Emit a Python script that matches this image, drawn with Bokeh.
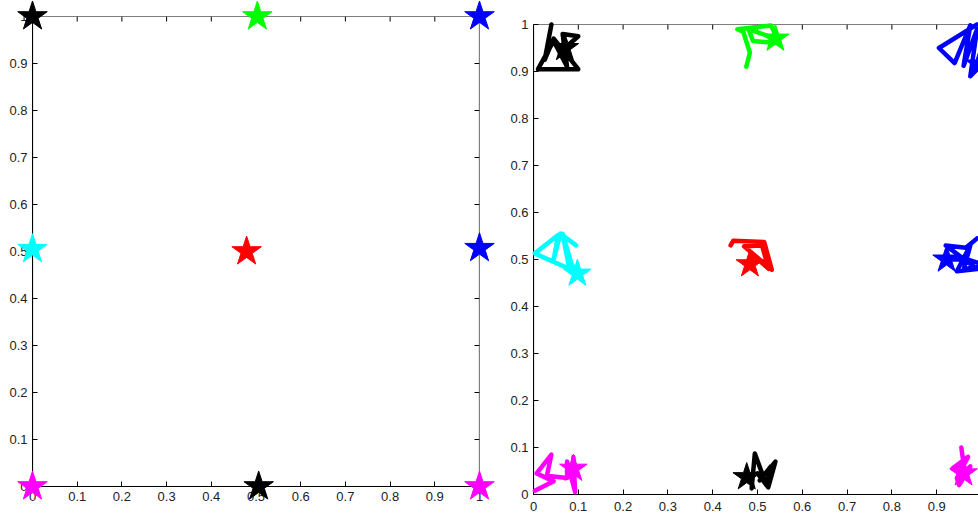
from bokeh.plotting import figure
from bokeh.models import Range1d, FixedTicker, BoxAnnotation
from bokeh.layouts import row
from bokeh.embed import file_html
from bokeh.resources import INLINE

# ---- ticks ----
ticks = [0, 0.1, 0.2, 0.3, 0.4, 0.5, 0.6, 0.7, 0.8, 0.9, 1.0]
tick_labels = ["0", "0.1", "0.2", "0.3", "0.4", "0.5", "0.6", "0.7", "0.8", "0.9", "1"]

# ---- left panel: target positions ----
left_x = [0.0, 0.503, 1.0, 0.0, 0.479, 1.0, 0.0, 0.506, 1.0]
left_y = [1.0, 1.0, 1.0, 0.505, 0.5, 0.507, 0.0, 0.0, 0.0]
left_colors = ["#000000", "#00FF00", "#0000FF", "#00FFFF", "#FF0000",
               "#0000FF", "#FF00FF", "#000000", "#FF00FF"]

# ---- right panel: trajectories ----
traj_black_tl_x = [0.04, 0.025, 0.045, 0.10, 0.01, 0.045, 0.075, 0.065, 0.10, 0.07]
traj_black_tl_y = [1.00, 0.925, 0.97, 0.905, 0.905, 0.965, 0.91, 0.98, 0.975, 0.95]
traj_green_x = [0.475, 0.483, 0.468, 0.455, 0.53, 0.55, 0.49, 0.48, 0.54]
traj_green_y = [0.91, 0.94, 0.985, 0.99, 0.998, 0.96, 0.965, 0.99, 0.97]
traj_blue_tr_x = [0.99, 0.905, 0.94, 0.975, 0.96, 0.99, 0.975, 0.99, 0.995]
traj_blue_tr_y = [1.0, 0.95, 0.918, 0.998, 0.912, 0.99, 0.89, 0.905, 0.915]
traj_cyan_x = [0.095, 0.06, 0.045, 0.055, 0.003, 0.08, 0.065, 0.085, 0.098]
traj_cyan_y = [0.53, 0.555, 0.50, 0.552, 0.513, 0.48, 0.555, 0.49, 0.47]
traj_red_x = [0.44, 0.446, 0.515, 0.532, 0.47, 0.51, 0.525, 0.49, 0.483]
traj_red_y = [0.53, 0.54, 0.537, 0.478, 0.528, 0.53, 0.48, 0.51, 0.49]
traj_blue_mid_x = [0.99, 0.965, 0.92, 0.99, 0.945, 0.975, 0.96, 1.0, 0.97, 0.922]
traj_blue_mid_y = [0.545, 0.525, 0.53, 0.48, 0.475, 0.53, 0.478, 0.49, 0.50, 0.50]
traj_mag_bl_x = [0.003, 0.045, 0.007, 0.04, 0.03, 0.075, 0.075, 0.093, 0.089, 0.089]
traj_mag_bl_y = [0.008, 0.028, 0.045, 0.085, 0.04, 0.035, 0.07, 0.005, 0.08, 0.055]
traj_black_bc_x = [0.487, 0.494, 0.52, 0.53, 0.505, 0.54, 0.524, 0.50, 0.476]
traj_black_bc_y = [0.013, 0.087, 0.02, 0.06, 0.03, 0.07, 0.015, 0.045, 0.037]
traj_mag_br_x = [0.955, 0.96, 0.935, 0.97, 0.945, 0.95, 0.975, 0.96]
traj_mag_br_y = [0.10, 0.065, 0.055, 0.08, 0.035, 0.02, 0.06, 0.045]

traj_xs = [traj_black_tl_x, traj_green_x, traj_blue_tr_x, traj_cyan_x, traj_red_x,
           traj_blue_mid_x, traj_mag_bl_x, traj_black_bc_x, traj_mag_br_x]
traj_ys = [traj_black_tl_y, traj_green_y, traj_blue_tr_y, traj_cyan_y, traj_red_y,
           traj_blue_mid_y, traj_mag_bl_y, traj_black_bc_y, traj_mag_br_y]
traj_colors = left_colors

FONT = "Liberation Sans"
FSIZE = "13px"
TICK_PX = 5
LO, HI = ticks[0], ticks[-1]


def style_axis(ax, standoff=5):
    ax.ticker = FixedTicker(ticks=ticks)
    ax.major_label_overrides = {t: l for t, l in zip(ticks, tick_labels)}
    ax.bounds = (LO, HI)
    ax.major_tick_in = TICK_PX
    ax.major_tick_out = 0
    ax.minor_tick_line_color = None
    ax.axis_line_color = "black"
    ax.major_tick_line_color = "black"
    ax.axis_line_width = 1
    ax.major_label_text_font = FONT
    ax.major_label_text_font_size = FSIZE
    ax.major_label_text_color = "#222222"
    ax.major_label_standoff = standoff


def inner_ticks(p, px_per_x, px_per_y, top=True, right=True):
    tx = TICK_PX / px_per_x
    ty = TICK_PX / px_per_y
    n = len(ticks)
    if top:
        p.segment(x0=ticks, y0=[HI] * n, x1=ticks, y1=[HI - ty] * n,
                  line_color="black", line_width=1)
    if right:
        p.segment(x0=[HI] * n, y0=ticks, x1=[HI - tx] * n, y1=ticks,
                  line_color="black", line_width=1)


def box(p):
    p.add_layout(BoxAnnotation(left=LO, right=HI, bottom=LO, top=HI,
                               fill_alpha=0, fill_color=None,
                               line_color="black", line_alpha=1.0, line_width=1.2))


def no_align(p):
    if hasattr(p, "frame_align"):
        p.frame_align = False


# ---- left figure: frame x 32..479, y 16..486 ----
p1 = figure(width=495, height=515, x_range=Range1d(0, 1), y_range=Range1d(0, 1),
            output_backend="svg", toolbar_location=None,
            min_border_left=32, min_border_right=16, min_border_top=16, min_border_bottom=29)
no_align(p1)
p1.grid.visible = False
p1.outline_line_color = None
style_axis(p1.xaxis[0], 5)
style_axis(p1.yaxis[0], 5)
box(p1)
inner_ticks(p1, 447, 470, top=True, right=True)
p1.scatter(left_x, left_y, marker="star", size=31, fill_color=left_colors,
           line_color=left_colors, level="overlay")

# ---- right figure: frame x 533..(981, cut at window edge), y 24..494 ----
p2 = figure(width=483, height=515, x_range=Range1d(0, 0.9933), y_range=Range1d(0, 1),
            output_backend="svg", toolbar_location=None,
            min_border_left=38, min_border_right=0, min_border_top=24, min_border_bottom=21)
no_align(p2)
p2.grid.visible = False
p2.outline_line_color = None
style_axis(p2.xaxis[0], 7)
style_axis(p2.yaxis[0], 5)
box(p2)
inner_ticks(p2, 448, 470, top=True, right=False)
p2.multi_line(traj_xs, traj_ys, line_color=traj_colors, line_width=4.5,
              line_join="round", line_cap="round", level="overlay")
star_x = [xs[-1] for xs in traj_xs]
star_y = [ys[-1] for ys in traj_ys]
p2.scatter(star_x, star_y, marker="star", size=29, fill_color=traj_colors,
           line_color=traj_colors, level="overlay")

layout = row(p1, p2)
layout.spacing = 0
open("out.html", "w").write(file_html(layout, INLINE))
